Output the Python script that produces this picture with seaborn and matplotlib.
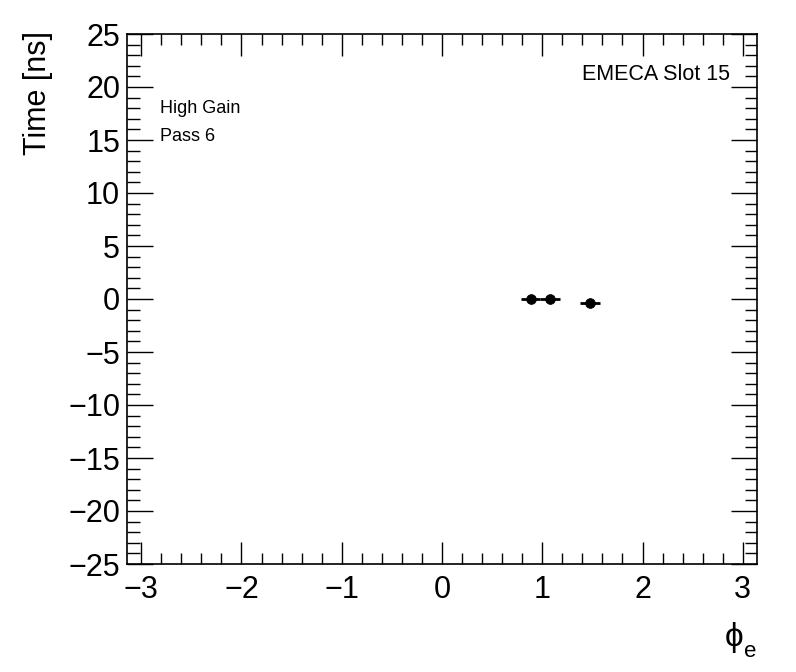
import numpy as np
import pandas as pd
import seaborn as sns
import matplotlib.pyplot as plt
from matplotlib.ticker import MultipleLocator

# phi bins (bin centres) and mean time per bin
phi = [0.884, 1.080, 1.473]
phi_err = [0.098, 0.098, 0.098]
time_ns = [0.0, 0.0, -0.4]
time_err = [0.05, 0.05, 0.05]

df = pd.DataFrame({'phi': phi, 'time': time_ns})

sns.set_style('ticks')
plt.rcParams['font.family'] = ['Liberation Sans', 'DejaVu Sans']
plt.rcParams['text.color'] = 'black'
plt.rcParams['xtick.color'] = 'black'
plt.rcParams['ytick.color'] = 'black'
plt.rcParams['mathtext.fontset'] = 'custom'
plt.rcParams['mathtext.rm'] = 'Liberation Sans'
plt.rcParams['mathtext.it'] = 'Liberation Sans'

fig = plt.figure(figsize=(7.96, 6.72), dpi=100)
ax = fig.add_axes([127/796, 1 - 564/672, 630/796, 530/672])

ax.errorbar(phi, time_ns, xerr=phi_err, yerr=time_err, fmt='none',
            ecolor='black', elinewidth=2, capsize=0, zorder=2)
sns.scatterplot(data=df, x='phi', y='time', ax=ax, color='black',
                s=50, edgecolor='black', linewidth=0.5, zorder=3, legend=False)

ax.set_xlim(-np.pi, np.pi)
ax.set_ylim(-25, 25)
ax.xaxis.set_major_locator(MultipleLocator(1))
ax.xaxis.set_minor_locator(MultipleLocator(0.2))
ax.yaxis.set_major_locator(MultipleLocator(5))
ax.yaxis.set_minor_locator(MultipleLocator(1))
ax.tick_params(which='both', direction='in', top=True, right=True,
               labelsize=22, width=1, color='black', labelcolor='black')
ax.tick_params(axis='x', which='major', length=16, pad=8)
ax.tick_params(axis='x', which='minor', length=8)
ax.tick_params(axis='y', which='major', length=19, pad=5)
ax.tick_params(axis='y', which='minor', length=9)
for s in ax.spines.values():
    s.set_linewidth(1.2)
    s.set_color('black')

ax.set_xlabel('')
ax.set_ylabel('')
fig.text(38/796, 1 - 31/672, 'Time [ns]', rotation=90, ha='center', va='top',
         fontsize=22)
fig.text(743/796, 1 - 646/672, r'$\mathrm{\phi}$', ha='right',
         va='baseline', fontsize=24)
fig.text(744/796, 1 - 657/672, 'e', ha='left', va='baseline', fontsize=16)

ax.text(0.052, 0.86, 'High Gain', transform=ax.transAxes, fontsize=13,
        va='center', ha='left')
ax.text(0.052, 0.8075, 'Pass 6', transform=ax.transAxes, fontsize=13,
        va='center', ha='left')
ax.text(0.957, 0.9245, 'EMECA Slot 15', transform=ax.transAxes, fontsize=15.5,
        va='center', ha='right')

fig.savefig('out.png', dpi=100)
